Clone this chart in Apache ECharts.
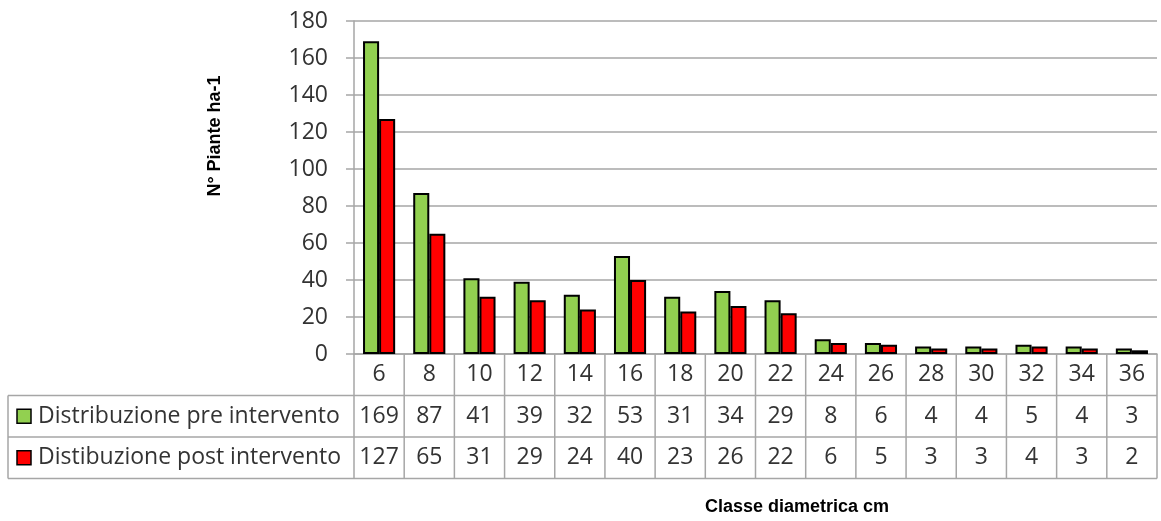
<!DOCTYPE html>
<html>
<head>
<meta charset="utf-8">
<script src="https://cdn.jsdelivr.net/npm/echarts@6/dist/echarts.min.js"></script>
<style>
html,body{margin:0;padding:0;background:#fff;}
#chart{width:1161px;height:521px;}
</style>
</head>
<body>
<div id="chart"></div>
<script>
const categories = ['6','8','10','12','14','16','18','20','22','24','26','28','30','32','34','36'];
const preValues = [169,87,41,39,32,53,31,34,29,8,6,4,4,5,4,3];
const postValues = [127,65,31,29,24,40,23,26,22,6,5,3,3,4,3,2];
const seriesNames = ['Distribuzione pre intervento','Distibuzione post intervento'];
const yTicks = [0,20,40,60,80,100,120,140,160,180];

const FONT = '"Open Sans", sans-serif';
const FS = 23;
const TXT = '#333333';
const LINE = '#a6a6a6';
const TITLE_FONT = 'bold 18px "Liberation Sans", Arial, sans-serif';
const plotL = 354, plotR = 1157, plotT = 21, plotB = 354;
const rowB = [395.5, 437, 478.5];
const tableL = 8;
const colW = (plotR - plotL) / categories.length;

const chart = echarts.init(document.getElementById('chart'));

const graphic = [];
rowB.forEach(function (y) {
  graphic.push({type:'line', shape:{x1:tableL, y1:y, x2:plotR, y2:y}, style:{stroke:LINE, lineWidth:1.5}});
});
graphic.push({type:'line', shape:{x1:tableL, y1:rowB[0], x2:tableL, y2:rowB[2]}, style:{stroke:LINE, lineWidth:1.5}});
for (let i = 0; i <= categories.length; i++) {
  const x = plotL + i * colW;
  graphic.push({type:'line', shape:{x1:x, y1:plotB, x2:x, y2:rowB[2]}, style:{stroke:LINE, lineWidth:1.5}});
}
categories.forEach(function (c, i) {
  graphic.push({type:'text', x: plotL + (i + 0.5) * colW, y: (plotB + rowB[0]) / 2,
    style:{text:c, font:FS + 'px ' + FONT, fill:TXT, align:'center', verticalAlign:'middle'}});
});
const rows = [preValues, postValues];
const colors = ['#92D050', '#FF0000'];
rows.forEach(function (vals, r) {
  const cy = (rowB[r] + rowB[r + 1]) / 2;
  graphic.push({type:'rect', shape:{x:17, y:cy - 7, width:14, height:14},
    style:{fill:colors[r], stroke:'#000', lineWidth:1.5}});
  graphic.push({type:'text', x:38, y:cy,
    style:{text:seriesNames[r], font:FS + 'px ' + FONT, fill:TXT, align:'left', verticalAlign:'middle'}});
  vals.forEach(function (v, i) {
    graphic.push({type:'text', x: plotL + (i + 0.5) * colW, y: cy,
      style:{text:String(v), font:FS + 'px ' + FONT, fill:TXT, align:'center', verticalAlign:'middle'}});
  });
});
graphic.push({type:'text', x:797, y:507,
  style:{text:'Classe diametrica cm', font:TITLE_FONT, fill:'#000', align:'center', verticalAlign:'middle'}});
graphic.push({type:'text', x:215, y:136, rotation: Math.PI / 2,
  style:{text:'N° Piante ha-1', font:TITLE_FONT, fill:'#000', align:'center', verticalAlign:'middle'}});

chart.setOption({
  animation: false,
  backgroundColor: '#fff',
  grid: {left: plotL, right: 1161 - plotR, top: plotT, bottom: 521 - plotB, containLabel: false},
  xAxis: {
    type: 'category',
    data: categories,
    boundaryGap: true,
    axisLine: {show: true, lineStyle: {color: LINE, width: 1.5}},
    axisTick: {show: false},
    axisLabel: {show: false}
  },
  yAxis: {
    type: 'value',
    min: yTicks[0],
    max: yTicks[yTicks.length - 1],
    interval: 20,
    axisLine: {show: true, lineStyle: {color: LINE, width: 1.5}},
    axisTick: {show: true, length: 8, lineStyle: {color: LINE, width: 1.5}},
    axisLabel: {margin: 26, fontFamily: FONT, fontSize: FS, color: TXT},
    splitLine: {show: true, lineStyle: {color: LINE, width: 1.5}}
  },
  series: [
    {name: seriesNames[0], type: 'bar', data: preValues, barGap: '0%', barCategoryGap: '36%',
     itemStyle: {color: colors[0], borderColor: '#000', borderWidth: 2}},
    {name: seriesNames[1], type: 'bar', data: postValues, barGap: '0%', barCategoryGap: '36%',
     itemStyle: {color: colors[1], borderColor: '#000', borderWidth: 2}}
  ],
  graphic: graphic
});
</script>
</body>
</html>
